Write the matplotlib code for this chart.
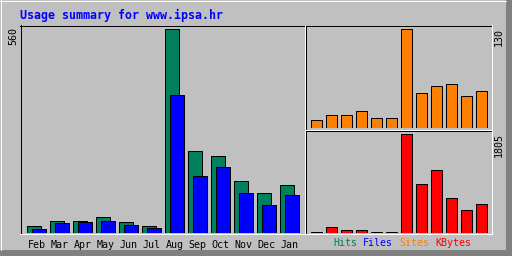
import matplotlib
matplotlib.use("Agg")
import matplotlib.pyplot as plt
from matplotlib.patches import Rectangle

months = ["Feb", "Mar", "Apr", "May", "Jun", "Jul",
          "Aug", "Sep", "Oct", "Nov", "Dec", "Jan"]
hits = [17, 33, 33, 44, 28, 19, 560, 226, 212, 141, 108, 132]
files = [11, 26, 29, 31, 20, 12, 378, 155, 180, 110, 75, 103]
sites = [10, 17, 16, 22, 13, 12, 130, 46, 55, 57, 42, 48]
kbytes = [15, 98, 45, 45, 15, 15, 1805, 887, 1144, 630, 410, 520]

title = "Usage summary for www.ipsa.hr"
legend_items = [("Hits", "#00805c"), ("Files", "#0000ff"),
                ("Sites", "#ff8000"), ("KBytes", "#ff0000")]

GREY = "#c0c0c0"
DKGREY = "#808080"
MONO = "DejaVu Sans Mono"
W, H = 512, 256

fig = plt.figure(figsize=(W / 100, H / 100), dpi=100, facecolor=GREY)


def px_axes(x0, y0, x1, y1):
    """axes from pixel box (top-left origin)"""
    ax = fig.add_axes([x0 / W, 1 - y1 / H, (x1 - x0) / W, (y1 - y0) / H])
    ax.set_facecolor("none")
    for s in ax.spines.values():
        s.set_visible(False)
    return ax


# background frame, drawn in pixel units
bg = fig.add_axes([0, 0, 1, 1], zorder=-1)
bg.set_xlim(0, W)
bg.set_ylim(H, 0)
bg.axis("off")
lw = 0.72
bg.add_patch(Rectangle((506, 0), 6, 256, color=DKGREY, lw=0))
bg.add_patch(Rectangle((0, 250), 512, 6, color=DKGREY, lw=0))
bg.plot([0, 506], [0.5, 0.5], color="white", lw=lw)
bg.plot([0.5, 0.5], [0, 250], color="white", lw=lw)
bg.plot([511.5, 511.5], [0, 256], color="black", lw=lw)
bg.plot([0, 512], [255.5, 255.5], color="black", lw=lw)
# panel bevels
bg.plot([20, 491], [25.5, 25.5], color="black", lw=lw)
bg.plot([20.5, 20.5], [25, 233], color="black", lw=lw)
bg.plot([491.5, 491.5], [25, 234], color="white", lw=lw)
bg.plot([20, 492], [233.5, 233.5], color="white", lw=lw)
bg.plot([304.5, 304.5], [26, 233], color="white", lw=lw)
bg.plot([305.5, 305.5], [26, 233], color="black", lw=lw)
bg.plot([306, 491], [129.5, 129.5], color="white", lw=lw)
bg.plot([306, 491], [130.5, 130.5], color="black", lw=lw)

# hits / files panel
ax = px_axes(20, 25, 304, 232.5)
idx = list(range(len(months)))
ax.bar([i + 0.30 for i in idx], hits, width=0.61, align="edge",
       color="#00805c", edgecolor="black", linewidth=lw)
ax.bar([i + 0.52 for i in idx], files, width=0.61, align="edge",
       color="#0000ff", edgecolor="black", linewidth=lw)
ax.set_xlim(0, 284 / 23)
ax.set_ylim(0, max(hits) * 1.0213)
ax.set_yticks([])
ax.set_xticks([i + 0.715 for i in idx])
ax.set_xticklabels(months, family=MONO, fontsize=7.2)
ax.tick_params(axis="x", length=0, pad=5.5)

# sites panel
ax2 = px_axes(305, 25, 491, 127.5)
ax2.bar([i + 0.40 for i in idx], sites, width=0.73, align="edge",
        color="#ff8000", edgecolor="black", linewidth=lw)
ax2.set_xlim(0, 186 / 15)
ax2.set_ylim(0, max(sites) * 1.044)
ax2.set_xticks([])
ax2.set_yticks([])

# kbytes panel
ax3 = px_axes(305, 130, 491, 232.5)
ax3.bar([i + 0.40 for i in idx], kbytes, width=0.73, align="edge",
        color="#ff0000", edgecolor="black", linewidth=lw)
ax3.set_xlim(0, 186 / 15)
ax3.set_ylim(0, max(kbytes) * 1.042)
ax3.set_xticks([])
ax3.set_yticks([])

# texts
fig.text(20 / W, 1 - 15 / H, title, family=MONO, fontsize=8.4,
         fontweight="bold", color="#0000ff", va="center", ha="left")
fig.text(13 / W, 1 - 27 / H, str(max(hits)), family=MONO, fontsize=7.2,
         rotation=90, va="top", ha="center")
fig.text(499 / W, 1 - 28 / H, str(max(sites)), family=MONO, fontsize=7.2,
         rotation=90, va="top", ha="center")
fig.text(499 / W, 1 - 133 / H, str(max(kbytes)), family=MONO, fontsize=7.2,
         rotation=90, va="top", ha="center")

x = 333
for word, col in legend_items:
    fig.text(x / W, 1 - 243.5 / H, word, family=MONO, fontsize=7.2,
             color=col, va="center", ha="left")
    x += (len(word) + 1) * 6

fig.savefig("out.png", dpi=100, facecolor=GREY)
